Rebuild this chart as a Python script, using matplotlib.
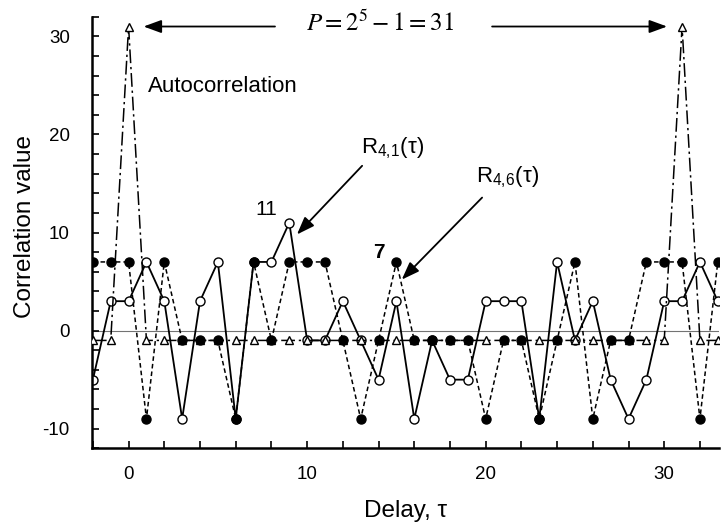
import matplotlib
matplotlib.use("Agg")
import matplotlib.pyplot as plt
from matplotlib.ticker import MultipleLocator
import numpy as np

plt.rcParams["font.family"] = ["Liberation Sans", "DejaVu Sans"]
plt.rcParams["mathtext.fontset"] = "custom"
plt.rcParams["mathtext.rm"] = "Liberation Sans"
plt.rcParams["mathtext.it"] = "Liberation Sans"
plt.rcParams["axes.unicode_minus"] = False

# delay values and correlation values
delay = np.arange(-2, 34)
autocorr = [-1, -1, 31, -1, -1, -1, -1, -1, -1, -1, -1, -1, -1, -1, -1, -1, -1, -1,
            -1, -1, -1, -1, -1, -1, -1, -1, -1, -1, -1, -1, -1, -1, -1, 31, -1, -1]
r41 = [-5, 3, 3, 7, 3, -9, 3, 7, -9, 7, 7, 11, -1, -1, 3, -1, -5, 3, -9, -1,
       -5, -5, 3, 3, 3, -9, 7, -1, 3, -5, -9, -5, 3, 3, 7, 3]
r46 = [7, 7, 7, -9, 7, -1, -1, -1, -9, 7, -1, 7, 7, 7, -1, -9, -1, 7, -1, -1,
       -1, -1, -9, -1, -1, -9, -1, 7, -9, -1, -1, 7, 7, 7, -9, 7]

fig = plt.figure(figsize=(7.22, 5.27), dpi=100)
ax = fig.add_axes([0.1274, 0.1493, 0.868, 0.819])

ax.axhline(0, color="0.45", lw=0.8, zorder=1)

ax.plot(delay, r41, "-", color="black", lw=1.3, marker="o", markersize=6.5,
        markerfacecolor="white", markeredgecolor="black", markeredgewidth=1.0, zorder=2)
ax.plot(delay, autocorr, color="black", lw=1.1, linestyle=(0, (9, 2.5, 1.5, 2.5)),
        marker="^", markersize=6, markerfacecolor="white", markeredgecolor="black",
        markeredgewidth=1.0, zorder=3)
ax.plot(delay, r46, color="black", lw=1.1, linestyle=(0, (3, 2)), marker="o",
        markersize=6.5, markerfacecolor="black", markeredgecolor="black", zorder=4)

ax.set_xlim(-2.05, 33.05)
ax.set_ylim(-12, 32)

for side in ["top", "right"]:
    ax.spines[side].set_visible(False)
for side in ["left", "bottom"]:
    ax.spines[side].set_linewidth(1.8)

ax.xaxis.set_major_locator(MultipleLocator(10))
ax.xaxis.set_minor_locator(MultipleLocator(2))
ax.yaxis.set_major_locator(MultipleLocator(10))
ax.yaxis.set_minor_locator(MultipleLocator(2))
ax.tick_params(axis="both", which="both", direction="in", length=5, width=1.2)
ax.tick_params(axis="y", which="major", labelsize=13.5, pad=16)
ax.tick_params(axis="x", which="major", labelsize=13.5, pad=13)

ax.set_xlabel("Delay, τ", fontsize=17.5)
ax.set_ylabel("Correlation value", fontsize=17.5)
ax.xaxis.set_label_coords(0.5, -0.12)
ax.yaxis.set_label_coords(-0.09, 0.515)

# annotations
ax.text(14.1, 31.3, r"$P = 2^5 - 1 = 31$", fontsize=18, math_fontfamily="stix",
        ha="center", va="center")
arrow = dict(arrowstyle="-|>,head_length=0.6,head_width=0.22", color="black", lw=1.3,
             mutation_scale=18, shrinkA=0, shrinkB=0)
ax.annotate("", xy=(0.84, 31.0), xytext=(8.2, 31.0), arrowprops=arrow)
ax.annotate("", xy=(30.16, 31.0), xytext=(20.36, 31.0), arrowprops=arrow)

ax.text(1.06, 24.9, "Autocorrelation", fontsize=16, ha="left", va="center")

ax.text(14.77, 18.6, r"R$_{4,\!1}$(τ)", fontsize=16, ha="center", va="center")
ax.annotate("", xy=(9.43, 9.8), xytext=(13.08, 16.8), arrowprops=arrow)
ax.text(7.71, 12.3, "11", fontsize=15, ha="center", va="center")

ax.text(21.2, 15.6, r"R$_{4,\!6}$(τ)", fontsize=16, ha="center", va="center")
ax.annotate("", xy=(15.3, 5.2), xytext=(19.8, 13.56), arrowprops=arrow)
ax.text(14.0, 8.0, "7", fontsize=15, fontweight="bold", ha="center", va="center")

fig.savefig("out.png", dpi=100)
